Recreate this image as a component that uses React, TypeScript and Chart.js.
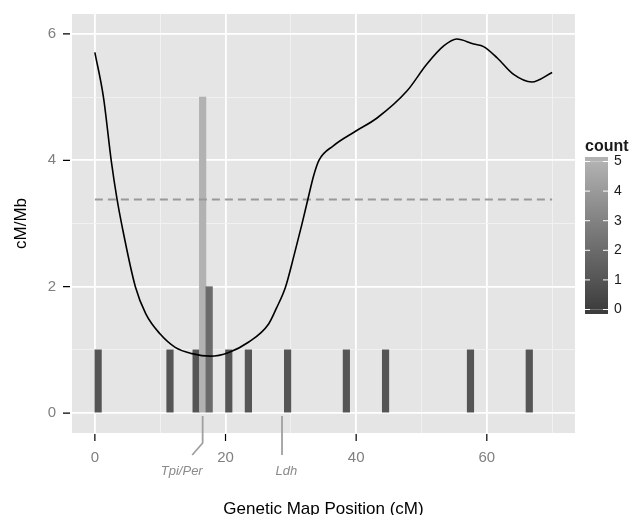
import React, { useEffect, useRef } from 'react';
import { Chart, registerables } from 'chart.js';

Chart.register(...registerables);

// ---- data ----
const curveX = [0, 1.33, 2.5, 3.4, 4.1, 6.2, 7.8, 10, 12.3, 14.9, 17.7, 20.5, 23.5, 26.6, 27.8, 29.2, 30.5, 31.7, 32.6, 33.5, 34.3, 36.5, 39.9, 43.2, 47.8, 50.8, 53.4, 55.4, 58, 59.5, 61.6, 64.1, 66.9, 70];
const curveY = [5.71, 4.99, 4.0, 3.38, 2.99, 2.0, 1.57, 1.25, 1.04, 0.94, 0.9, 0.96, 1.12, 1.41, 1.66, 2.0, 2.5, 2.99, 3.38, 3.76, 4.0, 4.23, 4.46, 4.67, 5.1, 5.52, 5.81, 5.92, 5.84, 5.8, 5.62, 5.36, 5.24, 5.39];

const binStarts = [0, 11, 15, 16, 17, 20, 23, 29, 38, 44, 57, 66];
const binCounts = [1, 1, 1, 5, 2, 1, 1, 1, 1, 1, 1, 1];
const binWidth = 1;

const meanRate = 3.38;
const meanRange = [0, 70];

const xTicks = [0, 10, 20, 30, 40, 50, 60, 70];
const xLabelTicks = [0, 20, 40, 60];
const yTicks = [0, 1, 2, 3, 4, 5, 6];
const yLabelTicks = [0, 2, 4, 6];

const countTicks = [0, 1, 2, 3, 4, 5];
const countColors = ['#3d3d3d', '#555555', '#6b6b6b', '#828282', '#9a9a9a', '#b2b2b2'];

const geneNames = ['Tpi/Per', 'Ldh'];
const genePositions = [16.5, 28.65];
const geneLeaderEnds = [14.9, 28.65];
const geneLabelPositions = [13.3, 29.3];

const FONT = "'Liberation Sans', Arial, Helvetica, sans-serif";

const panelPlugin = {
  id: 'panelPlugin',
  beforeDraw(chart: any) {
    const { ctx, chartArea } = chart;
    ctx.save();
    ctx.fillStyle = '#e5e5e5';
    ctx.fillRect(chartArea.left, chartArea.top, chartArea.right - chartArea.left, chartArea.bottom - chartArea.top);
    ctx.restore();
  },
  afterDraw(chart: any) {
    const { ctx, chartArea } = chart;
    const xs = chart.scales.x;
    const ys = chart.scales.y;
    ctx.save();
    // tick marks
    ctx.strokeStyle = '#000';
    ctx.lineWidth = 1.2;
    ctx.beginPath();
    xLabelTicks.forEach((v) => {
      const px = xs.getPixelForValue(v);
      ctx.moveTo(px, chartArea.bottom + 1);
      ctx.lineTo(px, chartArea.bottom + 8);
    });
    yLabelTicks.forEach((v) => {
      const py = ys.getPixelForValue(v);
      ctx.moveTo(chartArea.left - 9, py);
      ctx.lineTo(chartArea.left - 2, py);
    });
    ctx.stroke();

    // axis titles
    ctx.fillStyle = '#000';
    ctx.font = `17px ${FONT}`;
    ctx.textAlign = 'center';
    ctx.textBaseline = 'alphabetic';
    ctx.fillText('Genetic Map Position (cM)', (chartArea.left + chartArea.right) / 2, 514);
    ctx.save();
    ctx.translate(26, (chartArea.top + chartArea.bottom) / 2);
    ctx.rotate(-Math.PI / 2);
    ctx.fillText('cM/Mb', 0, 0);
    ctx.restore();

    // gene annotations
    ctx.strokeStyle = '#a0a0a0';
    ctx.lineWidth = 1.8;
    const y0 = ys.getPixelForValue(0);
    genePositions.forEach((g, i) => {
      const gx = xs.getPixelForValue(g);
      const ex = xs.getPixelForValue(geneLeaderEnds[i]);
      ctx.beginPath();
      ctx.moveTo(gx, y0 + 3);
      ctx.lineTo(gx, chartArea.bottom + 10);
      ctx.lineTo(ex, chartArea.bottom + 22);
      ctx.stroke();
    });
    ctx.fillStyle = '#8a8a8a';
    ctx.font = `italic 13px ${FONT}`;
    ctx.textAlign = 'center';
    geneNames.forEach((name, i) => {
      ctx.fillText(name, xs.getPixelForValue(geneLabelPositions[i]), chartArea.bottom + 42);
    });

    // colour bar legend
    const barLeft = 585;
    const barRight = 608;
    const valTop = 161.5;
    const valBottom = 309.5;
    const per = (valBottom - valTop) / (countTicks.length - 1);
    const barTop = valTop - 4.5;
    const barBottom = valBottom + 4.5;
    const grad = ctx.createLinearGradient(0, valBottom, 0, valTop);
    countColors.forEach((c, i) => grad.addColorStop(i / (countColors.length - 1), c));
    ctx.fillStyle = countColors[countColors.length - 1];
    ctx.fillRect(barLeft, barTop, barRight - barLeft, valTop - barTop);
    ctx.fillStyle = countColors[0];
    ctx.fillRect(barLeft, valBottom, barRight - barLeft, barBottom - valBottom);
    ctx.fillStyle = grad;
    ctx.fillRect(barLeft, valTop, barRight - barLeft, valBottom - valTop);
    ctx.strokeStyle = '#ffffff';
    ctx.lineWidth = 1;
    ctx.beginPath();
    countTicks.forEach((v) => {
      const py = valBottom - v * per;
      ctx.moveTo(barLeft, py);
      ctx.lineTo(barLeft + 5, py);
      ctx.moveTo(barRight - 5, py);
      ctx.lineTo(barRight, py);
    });
    ctx.stroke();
    ctx.fillStyle = '#1a1a1a';
    ctx.font = `14px ${FONT}`;
    ctx.textAlign = 'left';
    ctx.textBaseline = 'middle';
    countTicks.forEach((v) => {
      ctx.fillText(String(v), barRight + 6, valBottom - v * per);
    });
    ctx.font = `bold 16px ${FONT}`;
    ctx.textBaseline = 'alphabetic';
    ctx.fillText('count', barLeft, 151);
    ctx.restore();
  },
};

export default function App() {
  const ref = useRef<HTMLCanvasElement | null>(null);
  useEffect(() => {
    if (!ref.current) return;
    Chart.defaults.font.family = FONT;
    const chart = new Chart(ref.current, {
      type: 'bar',
      data: {
        datasets: [
          {
            type: 'line',
            label: 'rate',
            data: curveX.map((x, i) => ({ x, y: curveY[i] })),
            borderColor: '#000000',
            borderWidth: 1.6,
            pointRadius: 0,
            cubicInterpolationMode: 'monotone',
            fill: false,
            order: 0,
          } as any,
          {
            type: 'line',
            label: 'mean',
            data: meanRange.map((x) => ({ x, y: meanRate })),
            borderColor: '#999999',
            borderWidth: 2,
            borderDash: [8, 5],
            pointRadius: 0,
            fill: false,
            order: 1,
          } as any,
          {
            type: 'bar',
            label: 'count',
            data: binStarts.map((s, i) => ({ x: s + binWidth / 2, y: binCounts[i] })),
            backgroundColor: binCounts.map((c) => countColors[c]),
            categoryPercentage: 1,
            barPercentage: 1,
            borderWidth: 0,
            order: 2,
          } as any,
        ],
      },
      options: {
        responsive: false,
        animation: false,
        layout: { padding: { left: 0, right: 60, top: 14, bottom: 0 } },
        plugins: { legend: { display: false }, tooltip: { enabled: false } },
        scales: {
          x: {
            type: 'linear',
            min: -3.5,
            max: 73.5,
            offset: false,
            afterBuildTicks: (s: any) => {
              s.ticks = xTicks.map((v) => ({ value: v }));
            },
            afterFit: (s: any) => {
              s.height = 82;
              s.paddingLeft = 0;
              s.paddingRight = 0;
            },
            grid: {
              offset: false,
              drawTicks: false,
              color: (c: any) => (xLabelTicks.includes(c.tick?.value) ? '#ffffff' : '#f2f2f2'),
              lineWidth: (c: any) => (xLabelTicks.includes(c.tick?.value) ? 1.8 : 0.9),
            },
            border: { display: false },
            ticks: {
              padding: 16,
              color: '#7f7f7f',
              font: { size: 15 },
              maxRotation: 0,
              autoSkip: false,
              callback: (v: any) => (xLabelTicks.includes(v) ? String(v) : ''),
            },
          },
          y: {
            type: 'linear',
            min: -0.316,
            max: 6.316,
            afterBuildTicks: (s: any) => {
              s.ticks = yTicks.map((v) => ({ value: v }));
            },
            afterFit: (s: any) => {
              s.width = 72;
              s.paddingTop = 0;
              s.paddingBottom = 0;
            },
            grid: {
              drawTicks: false,
              color: (c: any) => (yLabelTicks.includes(c.tick?.value) ? '#ffffff' : '#f2f2f2'),
              lineWidth: (c: any) => (yLabelTicks.includes(c.tick?.value) ? 1.8 : 0.9),
            },
            border: { display: false },
            ticks: {
              padding: 16,
              color: '#7f7f7f',
              font: { size: 15 },
              autoSkip: false,
              callback: (v: any) => (yLabelTicks.includes(v) ? String(v) : ''),
            },
          },
        },
      } as any,
      plugins: [panelPlugin],
    });
    return () => chart.destroy();
  }, []);
  return (
    <div style={{ position: 'absolute', left: 0, top: 0, width: 635, height: 515 }}>
      <canvas ref={ref} width={635} height={515} style={{ display: 'block' }} />
    </div>
  );
}
